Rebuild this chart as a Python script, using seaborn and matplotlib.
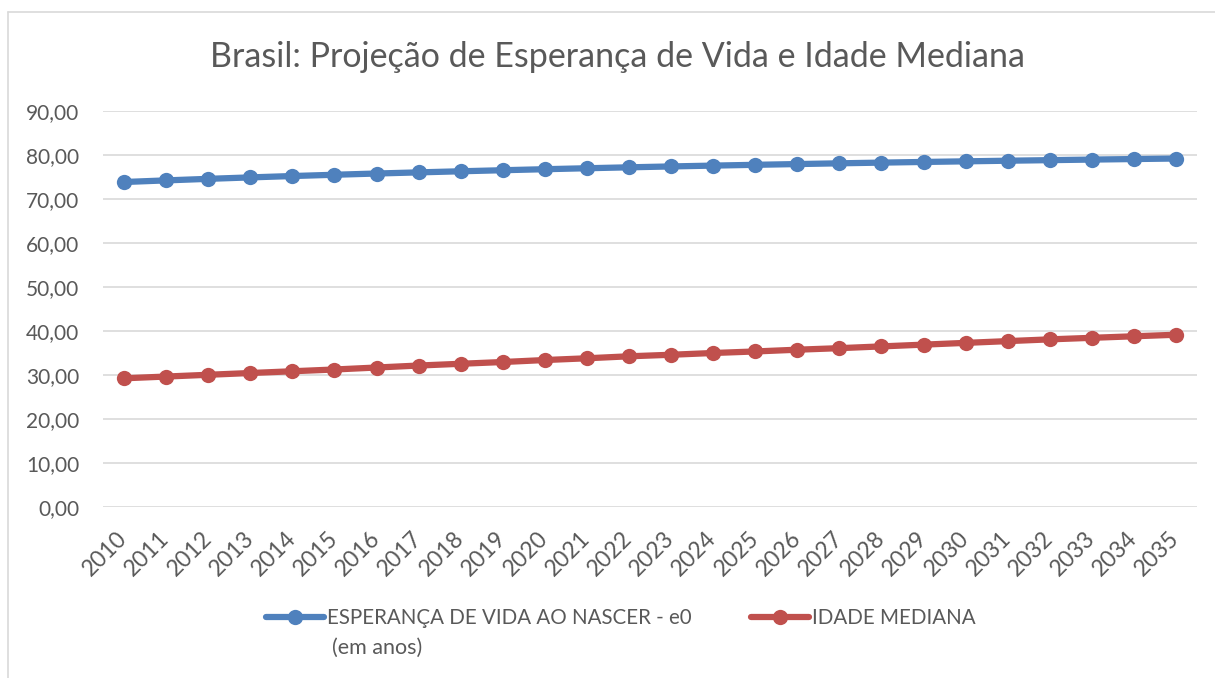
import matplotlib
matplotlib.use("Agg")
import matplotlib.pyplot as plt
import seaborn as sns
import pandas as pd
from matplotlib.lines import Line2D

years = [str(y) for y in range(2010, 2036)]
esperanca = [73.86, 74.23, 74.58, 74.91, 75.22, 75.51, 75.79, 76.05, 76.30, 76.54,
             76.77, 76.99, 77.20, 77.40, 77.59, 77.77, 77.94, 78.11, 78.27, 78.42,
             78.56, 78.70, 78.83, 78.96, 79.08, 79.20]
idade = [29.25, 29.65, 30.05, 30.45, 30.85, 31.25, 31.70, 32.15, 32.55, 32.95,
         33.40, 33.80, 34.25, 34.60, 35.00, 35.35, 35.75, 36.10, 36.50, 36.90,
         37.30, 37.70, 38.10, 38.45, 38.80, 39.15]
label_e0 = "ESPERANÇA DE VIDA AO NASCER - e0"
label_e0_cont = "(em anos)"
label_idade = "IDADE MEDIANA"
title = "Brasil: Projeção de Esperança de Vida e Idade Mediana"
yticks = [0, 10, 20, 30, 40, 50, 60, 70, 80, 90]

sns.set_theme(style="white")
plt.rcParams["font.family"] = ["Lato", "DejaVu Sans"]

df = pd.DataFrame({
    "ano": years * 2,
    "valor": esperanca + idade,
    "serie": [label_e0] * len(years) + [label_idade] * len(years),
})

W, H = 1215, 678
fig = plt.figure(figsize=(W / 100, H / 100), dpi=100)
ax = fig.add_axes([103 / W, 1 - 507 / H, (1197 - 103) / W, (507 - 111) / H])

palette = {label_e0: "#4F81BD", label_idade: "#C0504D"}
sns.lineplot(data=df, x="ano", y="valor", hue="serie", palette=palette, ax=ax,
             marker="o", markersize=11, linewidth=4.5, markeredgewidth=0,
             legend=False, sort=False)

ax.set_xlim(-0.5, len(years) - 0.5)
ax.set_ylim(0, 90)
ax.set_yticks(yticks)
ax.set_yticklabels([f"{v:.2f}".replace(".", ",") for v in yticks])
ax.set_xlabel("")
ax.set_ylabel("")
ax.grid(axis="y", color="#D9D9D9", linewidth=1.2)
ax.grid(axis="x", visible=False)
ax.set_axisbelow(True)
for s in ax.spines.values():
    s.set_visible(False)
ax.tick_params(axis="y", labelsize=15, labelcolor="#595959", length=0, pad=17)
ax.tick_params(axis="x", labelsize=16.5, labelcolor="#595959", length=0, pad=20)
for lab in ax.get_xticklabels():
    lab.set_rotation(45)
    lab.set_ha("right")
    lab.set_va("center")
    lab.set_rotation_mode("anchor")

fig.text(0.508, 1 - 57 / H, title, ha="center", va="center", fontsize=24.5, color="#595959")

handles = [
    Line2D([], [], color="#4F81BD", linewidth=4.5, marker="o", markersize=11, markeredgewidth=0),
    Line2D([], [], color="#C0504D", linewidth=4.5, marker="o", markersize=11, markeredgewidth=0),
]
leg = fig.legend(handles, [label_e0, label_idade], loc="center",
                 bbox_to_anchor=(0.511, 1 - 618 / H), ncol=2, frameon=False,
                 fontsize=14.8, handlelength=2.8, handletextpad=0.15, columnspacing=2.9,
                 labelcolor="#595959")

fig.canvas.draw()
bb = leg.get_texts()[0].get_window_extent()
fig.text(bb.x0 / W + 5 / W, 1 - 648 / H, label_e0_cont, ha="left", va="center",
         fontsize=15.5, color="#595959")

# chart border
fig.add_artist(Line2D([8 / W, 1.0], [1 - 12 / H, 1 - 12 / H], transform=fig.transFigure,
                      color="#D9D9D9", linewidth=1.2))
fig.add_artist(Line2D([8 / W, 8 / W], [0, 1 - 12 / H], transform=fig.transFigure,
                      color="#D9D9D9", linewidth=1.2))

fig.savefig("out.png", dpi=100, facecolor="white")
